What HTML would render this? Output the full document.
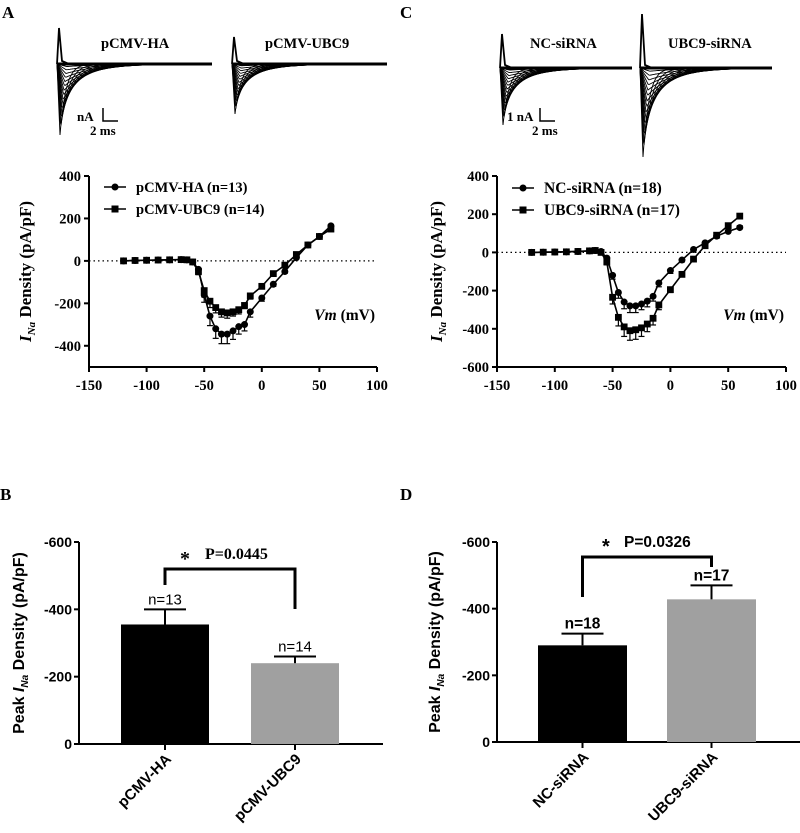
<!DOCTYPE html>
<html><head><meta charset="utf-8"><style>
html,body{margin:0;padding:0;background:#fff;}
svg{display:block;font-family:"Liberation Serif",serif;}
.sans{font-family:"Liberation Sans",sans-serif;}
</style></head><body>
<svg id="fig" width="800" height="833" viewBox="0 0 800 833">
<g id="traces"></g>
<text x="2" y="18" font-size="17" font-weight="bold">A</text>
<text x="400" y="18" font-size="17" font-weight="bold">C</text>
<text x="0" y="500" font-size="17" font-weight="bold">B</text>
<text x="400" y="500" font-size="17" font-weight="bold">D</text>
<text x="101" y="48" font-size="14.5" font-weight="bold">pCMV-HA</text>
<text x="265" y="48" font-size="14.5" font-weight="bold">pCMV-UBC9</text>
<text x="530" y="48" font-size="14.5" font-weight="bold">NC-siRNA</text>
<text x="668" y="48" font-size="14.5" font-weight="bold">UBC9-siRNA</text>
<g font-size="13" font-weight="bold">
<text x="77" y="121">nA</text><path d="M103,108 V121 H118" stroke="#000" stroke-width="1.5" fill="none"/>
<text x="90" y="135">2 ms</text></g>
<g font-size="13" font-weight="bold">
<text x="507" y="121">1 nA</text><path d="M540,108 V121 H555" stroke="#000" stroke-width="1.5" fill="none"/>
<text x="532" y="135">2 ms</text></g>
<g id="ivA"></g>
<g id="ivC"></g>
<g id="barB"></g>
<g id="barD"></g>
</svg>
<script>
const NS="http://www.w3.org/2000/svg";
function mk(p,tag,attrs,txt){const e=document.createElementNS(NS,tag);for(const k in attrs)e.setAttribute(k,attrs[k]);if(txt!==undefined)e.textContent=txt;p.appendChild(e);return e;}

// IV data
const ivX=[-120,-110,-100,-90,-80,-70,-65,-60,-55,-50,-45,-40,-35,-30,-25,-20,-15,-10,0,10,20,30,40,50,60];
const haY=[0,2,3,4,5,6,5,-5,-40,-160,-260,-320,-345,-345,-330,-310,-300,-240,-175,-110,-50,15,75,115,165];
const haErr=[0,0,0,0,0,3,3,5,15,35,45,45,45,45,40,35,30,25,15,10,8,6,6,6,6];
const ubc9Y=[0,2,3,4,5,6,5,-5,-50,-140,-190,-220,-240,-245,-240,-230,-210,-165,-120,-60,-20,30,75,115,150];
const ubc9Err=[0,0,0,0,0,3,3,5,15,30,30,25,25,25,20,20,15,15,10,8,6,6,6,6,6];
const ncY=[0,1,2,3,5,8,10,5,-30,-120,-210,-260,-280,-280,-270,-255,-230,-160,-95,-40,15,50,85,110,130];
const ncErr=[0,0,0,0,0,3,3,5,10,20,30,35,35,35,30,30,25,20,15,10,6,6,6,6,10];
const siY=[0,1,2,3,5,8,10,0,-50,-235,-340,-390,-410,-405,-395,-375,-345,-275,-195,-115,-35,35,90,140,190];
const siErr=[0,0,0,0,0,3,3,5,15,35,45,50,50,50,45,40,35,25,15,10,8,6,6,8,8];
const xTicks=[-150,-100,-50,0,50,100];
const yTicksA=[400,200,0,-200,-400];
const yTicksC=[400,200,0,-200,-400,-600];

function iv(g,o){
  const sx=v=>o.x0+(v+150)/250*(o.x1-o.x0);
  const sy=v=>o.y0+(o.ymax-v)/(o.ymax-o.ymin)*(o.y1-o.y0);
  mk(g,'line',{x1:o.x0,y1:o.y0,x2:o.x0,y2:o.y1,stroke:'#000','stroke-width':2});
  mk(g,'line',{x1:o.x0,y1:o.y1,x2:o.x1,y2:o.y1,stroke:'#000','stroke-width':2});
  mk(g,'line',{x1:o.x0,y1:sy(0),x2:o.x1,y2:sy(0),stroke:'#000','stroke-width':1.3,'stroke-dasharray':'1.5,3'});
  xTicks.forEach(t=>{mk(g,'line',{x1:sx(t),y1:o.y1,x2:sx(t),y2:o.y1+5,stroke:'#000','stroke-width':2});
    const e=mk(g,'text',{x:sx(t),y:o.y1+23,'text-anchor':'middle','font-size':14.5,'font-weight':'bold'},t);
    });
  o.yt.forEach(t=>{mk(g,'line',{x1:o.x0-5,y1:sy(t),x2:o.x0,y2:sy(t),stroke:'#000','stroke-width':2});
    const e=mk(g,'text',{x:o.x0-8,y:sy(t)+5,'text-anchor':'end','font-size':14.5,'font-weight':'bold'},t);
    });
  const yt=mk(g,'text',{transform:`translate(${o.x0-o.tOff},${(o.y0+o.y1)/2}) rotate(-90)`,'text-anchor':'middle','font-size':17,'font-weight':'bold'});
  
  yt.innerHTML='<tspan font-style="italic">I</tspan><tspan font-style="italic" font-size="11" dy="4">Na</tspan><tspan dy="-4"> Density (pA/pF)</tspan>';
  const xt=mk(g,'text',{x:o.x1-2,y:o.y1-47,'text-anchor':'end','font-size':15.5,'font-weight':'bold'});
  
  xt.innerHTML='<tspan font-style="italic">Vm</tspan> (mV)';
  o.series.forEach((s,si)=>{
    const sg=mk(g,'g',{});
    
    mk(sg,'polyline',{points:ivX.map((x,i)=>sx(x)+','+sy(s.y[i])).join(' '),fill:'none',stroke:'#000','stroke-width':1.6});
    ivX.forEach((x,i)=>{
      const e=s.e[i];
      if(e>0){const d=s.y[i]<0?-e:e;
        mk(sg,'line',{x1:sx(x),y1:sy(s.y[i]),x2:sx(x),y2:sy(s.y[i]+d),stroke:'#000','stroke-width':1.2});
        mk(sg,'line',{x1:sx(x)-3,y1:sy(s.y[i]+d),x2:sx(x)+3,y2:sy(s.y[i]+d),stroke:'#000','stroke-width':1.2});}
      if(s.shape==='c')mk(sg,'circle',{cx:sx(x),cy:sy(s.y[i]),r:3.5,fill:'#000'});
      else mk(sg,'rect',{x:sx(x)-3.4,y:sy(s.y[i])-3.4,width:6.8,height:6.8,fill:'#000'});
    });
    const ly=o.legY+si*22, lx=o.x0+15;
    const lg=mk(g,'g',{});
    
    mk(lg,'line',{x1:lx,y1:ly,x2:lx+22,y2:ly,stroke:'#000','stroke-width':1.6});
    if(s.shape==='c')mk(lg,'circle',{cx:lx+11,cy:ly,r:3.5,fill:'#000'});else mk(lg,'rect',{x:lx+7.5,y:ly-3.5,width:7,height:7,fill:'#000'});
    mk(lg,'text',{x:lx+32,y:ly+5,'font-size':o.legFs,'font-weight':'bold'},s.label);
  });
}
iv(document.getElementById('ivA'),{x0:89,x1:377,y0:176,y1:367,ymax:400,ymin:-500,yt:yTicksA,legY:187,legFs:14.5,tOff:58,
 series:[{name:'pcmv-ha',label:'pCMV-HA (n=13)',y:haY,e:haErr,shape:'c'},{name:'pcmv-ubc9',label:'pCMV-UBC9 (n=14)',y:ubc9Y,e:ubc9Err,shape:'s'}]});
iv(document.getElementById('ivC'),{x0:497,x1:786,y0:176,y1:367,ymax:400,ymin:-600,yt:yTicksC,legY:188,legFs:15.5,tOff:55,
 series:[{name:'nc-sirna',label:'NC-siRNA (n=18)',y:ncY,e:ncErr,shape:'c'},{name:'ubc9-sirna',label:'UBC9-siRNA (n=17)',y:siY,e:siErr,shape:'s'}]});

// Bar data
const barCatsB=['pCMV-HA','pCMV-UBC9'];
const barValsB=[355,240];
const barErrB=[45,20];
const barNB=['n=13','n=14'];
const barCatsD=['NC-siRNA','UBC9-siRNA'];
const barValsD=[290,428];
const barErrD=[35,42];
const barND=['n=18','n=17'];
const barTicks=[0,-200,-400,-600];

function bars(g,o){
  const sy=v=>o.yb-v/600*(o.yb-o.yt);
  mk(g,'line',{x1:o.x0,y1:o.yt,x2:o.x0,y2:o.yb,stroke:'#000','stroke-width':2});
  mk(g,'line',{x1:o.x0,y1:o.yb,x2:o.x1,y2:o.yb,stroke:'#000','stroke-width':2});
  barTicks.forEach(t=>{mk(g,'line',{x1:o.x0-5,y1:sy(-t),x2:o.x0,y2:sy(-t),stroke:'#000','stroke-width':2});
    const e=mk(g,'text',{x:o.x0-7,y:sy(-t)+5,'text-anchor':'end','font-size':14,'font-weight':'bold',class:'sans'},t);
    });
  const yt=mk(g,'text',{transform:`translate(${o.x0-o.tOff},${(o.yt+o.yb)/2}) rotate(-90)`,'text-anchor':'middle','font-size':16,'font-weight':'bold',class:'sans'});
  
  yt.innerHTML='Peak <tspan font-style="italic">I</tspan><tspan font-style="italic" font-size="10" dy="4">Na</tspan><tspan dy="-4"> Density (pA/pF)</tspan>';
  const fills=['#000','#a0a0a0'];
  const tops=[];
  o.vals.forEach((v,i)=>{
    const bx=o.bx[i], cx=bx+o.bw/2;
    const r=mk(g,'rect',{x:bx,y:sy(v),width:o.bw,height:o.yb-sy(v),fill:fills[i]});
    
    const et=sy(v+o.err[i]);
    mk(g,'line',{x1:cx,y1:sy(v),x2:cx,y2:et,stroke:'#000','stroke-width':2});
    mk(g,'line',{x1:cx-21,y1:et,x2:cx+21,y2:et,stroke:'#000','stroke-width':2});
    const nt=mk(g,'text',{x:cx,y:et-5,'text-anchor':'middle','font-size':o.nfs,'font-weight':o.nw,class:'sans'},o.n[i]);
    
    mk(g,'line',{x1:cx,y1:o.yb,x2:cx,y2:o.yb+6,stroke:'#000','stroke-width':2});
    const ct=mk(g,'text',{transform:`translate(${cx+7},${o.yb+16}) rotate(-45)`,'text-anchor':'end','font-size':15,'font-weight':'bold',class:'sans'},o.cats[i]);
    
    tops.push(cx);
  });
  const br=mk(g,'path',{d:`M${tops[0]},${o.bl[0]} V${o.bt} H${tops[1]} V${o.bl[1]}`,fill:'none',stroke:'#000','stroke-width':3});
  
  const st=mk(g,'text',{x:o.starX,y:o.bt-4,'font-size':20,'font-weight':'bold',class:o.pcls},'*');
  
  const pt=mk(g,'text',{x:o.pX,y:o.bt-10,'font-size':o.pfs,'font-weight':'bold',class:o.pcls},o.p);
  
}
bars(document.getElementById('barB'),{x0:79,x1:383,yt:542,yb:744,bx:[121,251],bw:88,vals:barValsB,err:barErrB,n:barNB,cats:barCatsB,
 nfs:15,nw:'normal',bt:569,bl:[585,609],starX:180,pX:205,p:'P=0.0445',pfs:16,pcls:'',tOff:55});
bars(document.getElementById('barD'),{x0:497,x1:800,yt:542,yb:742,bx:[538,667],bw:89,vals:barValsD,err:barErrD,n:barND,cats:barCatsD,
 nfs:15.5,nw:'bold',bt:557,bl:[597,567],starX:602,pX:624,p:'P=0.0326',pfs:15.5,pcls:'sans',tOff:57});

// current traces
const traceSets=[{x0:57,x1:212,base:64,peak:135,spike:28},{x0:232,x1:387,base:64,peak:114,spike:37},
 {x0:500,x1:632,base:68,peak:125,spike:34},{x0:640,x1:772,base:68,peak:157,spike:14}];
const tg=document.getElementById('traces');
traceSets.forEach((t,ti)=>{
  const g=mk(tg,'g',{});
  
  mk(g,'path',{d:`M${t.x0},${t.base} L${t.x0+2},${t.spike} L${t.x0+5},${t.base-3} L${t.x0+12},${t.base}`,fill:'none',stroke:'#000','stroke-width':1.8});
  for(let k=1;k<=16;k++){
    const amp=(t.peak-t.base)*Math.pow(k/16,1.2), tau=6+(16-k)*2, tp=3+(16-k)*0.45;
    let d=`M${t.x0},${t.base}`;
    for(let x=0;x<=t.x1-t.x0;x+=1){
      const y=t.base+amp*(x<tp? x/tp : Math.exp(-(x-tp)/tau));
      d+=` L${t.x0+x},${y.toFixed(1)}`;
    }
    mk(g,'path',{d:d,fill:'none',stroke:'#000','stroke-width':0.9});
  }
  mk(g,'line',{x1:t.x0,y1:t.base,x2:t.x1,y2:t.base,stroke:'#000','stroke-width':3});
});
</script>
</body></html>
